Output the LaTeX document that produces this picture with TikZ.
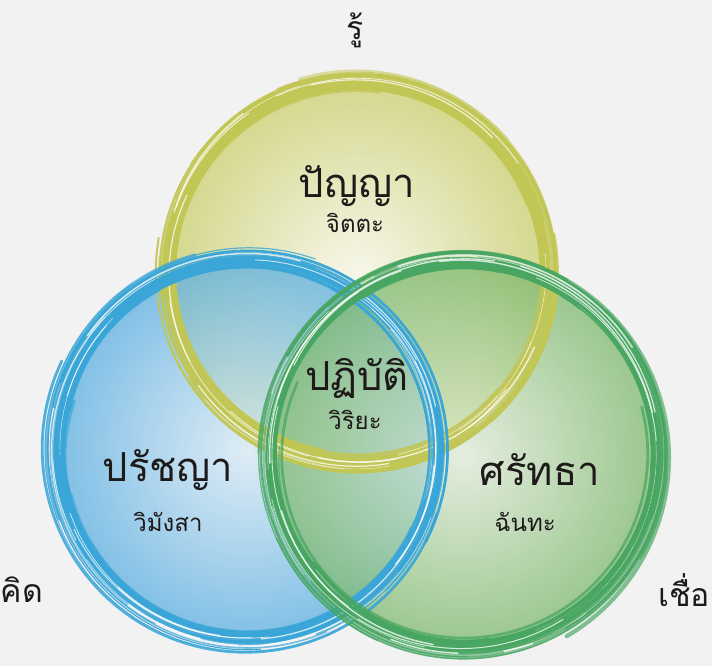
\documentclass[tikz,border=0pt]{standalone}
\usepackage{fontspec}
\newfontfamily\thaifont[Script=Thai]{Loma}
\definecolor{bg}{RGB}{243,242,242}
\definecolor{ringY}{RGB}{194,198,84}
\definecolor{ringB}{RGB}{58,166,216}
\definecolor{ringG}{RGB}{72,166,98}
\definecolor{fillYo}{RGB}{206,210,118}
\definecolor{fillYi}{RGB}{248,248,232}
\definecolor{fillBo}{RGB}{88,174,226}
\definecolor{fillBi}{RGB}{216,235,247}
\definecolor{fillGo}{RGB}{124,184,108}
\definecolor{fillGi}{RGB}{224,236,216}
\definecolor{txt}{RGB}{30,26,26}
\tikzset{
  big/.style={font=\thaifont\fontsize{40}{44}\selectfont, text=txt, inner sep=0pt},
  small/.style={font=\thaifont\fontsize{24}{28}\selectfont, text=txt, inner sep=0pt},
  outer/.style={font=\thaifont\fontsize{32}{36}\selectfont, text=txt, inner sep=0pt},
}
\newcommand{\brushring}[4]{% center, radius, color, seed
  \pgfmathsetseed{#4}
  \draw[#3, line width=3pt, opacity=0.9] (#1) circle[radius=#2];
  \foreach \k in {1,...,48}{
    \pgfmathsetmacro\rr{#2+(rnd-0.5)*20}
    \pgfmathsetmacro\dr{(rnd-0.5)*14}
    \pgfmathsetmacro\sa{rnd*360}
    \pgfmathsetmacro\len{40+rnd*220}
    \pgfmathsetmacro\ea{\sa+\len}
    \pgfmathsetmacro\lw{0.5+rnd*4}
    \pgfmathsetmacro\op{0.5+rnd*0.5}
    \draw[#3, line width=\lw pt, opacity=\op, line cap=round, shift={(#1)}]
      plot[domain=\sa:\ea, samples=40, variable=\t, smooth]
      ({(\rr+\dr*(\t-\sa)/\len)*cos(\t)}, {(\rr+\dr*(\t-\sa)/\len)*sin(\t)});
  }
  \foreach \k in {1,...,16}{
    \pgfmathsetmacro\rr{#2+(rnd-0.5)*10}
    \pgfmathsetmacro\dr{(rnd-0.5)*6}
    \pgfmathsetmacro\sa{rnd*360}
    \pgfmathsetmacro\len{15+rnd*70}
    \pgfmathsetmacro\ea{\sa+\len}
    \pgfmathsetmacro\lw{0.4+rnd*1.1}
    \draw[white, line width=\lw pt, opacity=0.75, line cap=round, shift={(#1)}]
      plot[domain=\sa:\ea, samples=20, variable=\t, smooth]
      ({(\rr+\dr*(\t-\sa)/\len)*cos(\t)}, {(\rr+\dr*(\t-\sa)/\len)*sin(\t)});
  }
}
\begin{document}
\begin{tikzpicture}[x=1pt,y=-1pt]
\fill[bg] (0,0) rectangle (712,666);
\useasboundingbox (0,0) rectangle (712,666);
\coordinate (cY) at (357,272);
\coordinate (cB) at (247,450);
\coordinate (cG) at (463,455);
% fills
\shade[inner color=fillYi, outer color=fillYo, fill opacity=0.82] (cY) circle[radius=190];
\shade[inner color=fillBi, outer color=fillBo, fill opacity=0.74] (cB) circle[radius=190];
\shade[inner color=fillGi, outer color=fillGo, fill opacity=0.74] (cG) circle[radius=193];
% rings
\brushring{cY}{192}{ringY}{11}
\brushring{cB}{192}{ringB}{23}
\brushring{cG}{195}{ringG}{37}
% texts
\node[outer] (ru) at (355,30) {รู้};
\node[outer] (khit) at (22,590) {คิด};
\node[outer] (chuea) at (684,590) {เชื่อ};
\node[big] (panya) at (357,186) {ปัญญา};
\node[small] (jitta) at (355,223) {จิตตะ};
\node[big] (patibat) at (357,378) {ปฏิบัติ};
\node[small] (wiriya) at (355,420) {วิริยะ};
\node[big] (pratchaya) at (168,470) {ปรัชญา};
\node[small] (wimangsa) at (168,522) {วิมังสา};
\node[big] (sattha) at (540,470) {ศรัทธา};
\node[small] (chantha) at (525,522) {ฉันทะ};
\end{tikzpicture}
\end{document}
